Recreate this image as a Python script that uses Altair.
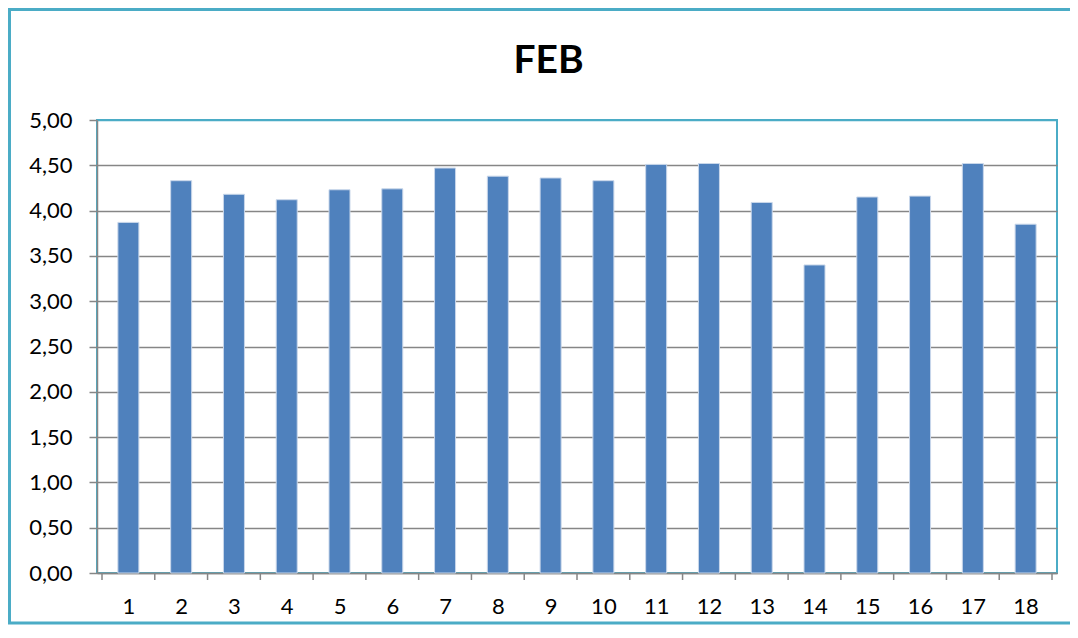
import altair as alt
import pandas as pd

categories = list(range(1, 19))
values = [3.87, 4.33, 4.18, 4.12, 4.23, 4.24, 4.47, 4.38, 4.36, 4.33,
          4.51, 4.52, 4.09, 3.40, 4.15, 4.16, 4.52, 3.85]
y_ticks = [0, 0.5, 1.0, 1.5, 2.0, 2.5, 3.0, 3.5, 4.0, 4.5, 5.0]
boundaries = [c - 0.5 for c in categories] + [categories[-1] + 0.5]
title_text = ["FEB"]

df = pd.DataFrame({"cat": categories, "val": values})
bdf = pd.DataFrame({"b": boundaries})

GRAY = "#868686"
TEAL = "#4BACC6"
BAR = "#4F81BD"
W, H = 960, 453

xscale = alt.Scale(domain=[0.5, 18.5], nice=False, zero=False)

bars = alt.Chart(df).mark_bar(width=21, color=BAR, stroke="#c9d7ea", strokeWidth=1).encode(
    x=alt.X("cat:Q", scale=xscale,
            axis=alt.Axis(values=categories, ticks=False, grid=False, labelAngle=0,
                          format="d", labelFontSize=22, labelFont="Lato",
                          labelColor="#000000", labelPadding=23,
                          domainColor=GRAY, domainWidth=1.5, title=None)),
    y=alt.Y("val:Q", scale=alt.Scale(domain=[0, 5], nice=False),
            axis=alt.Axis(values=y_ticks, grid=True,
                          gridColor={"condition": {"test": "datum.value >= 5", "value": TEAL},
                                     "value": GRAY},
                          gridWidth=1.5,
                          tickSize=8, tickColor=GRAY, tickWidth=1.5,
                          domainColor=GRAY, domainWidth=1.5,
                          labelFontSize=22, labelFont="Lato", labelColor="#000000",
                          labelPadding=17,
                          labelExpr="replace(format(datum.value, '.2f'), '.', ',')",
                          title=None)),
)

ticks = alt.Chart(bdf).mark_rule(color=GRAY, strokeWidth=1.5).encode(
    x=alt.X("b:Q", scale=xscale),
    y=alt.value(H),
    y2=alt.value(H + 7),
)

frame = alt.Chart(pd.DataFrame({"a": [0]})).mark_rect(
    fill="transparent", stroke=TEAL, strokeWidth=3
).encode(
    x=alt.value(-87.5), x2=alt.value(1000),
    y=alt.value(-110.5), y2=alt.value(503),
)

title = alt.Chart(pd.DataFrame({"t": title_text})).mark_text(
    font="Lato", fontSize=39, fontWeight="bold", color="#000000",
    align="center", baseline="alphabetic"
).encode(
    text="t:N",
    x=alt.value(451.5),
    y=alt.value(-47),
)

chart = alt.layer(frame, bars, ticks, title).properties(
    width=W, height=H,
    autosize=alt.AutoSizeParams(type="none"),
    padding={"left": 89, "top": 112, "right": 13, "bottom": 52},
).configure_view(stroke=TEAL, strokeWidth=2)

chart.save("out.html", embed_options={"renderer": "svg", "actions": False})
